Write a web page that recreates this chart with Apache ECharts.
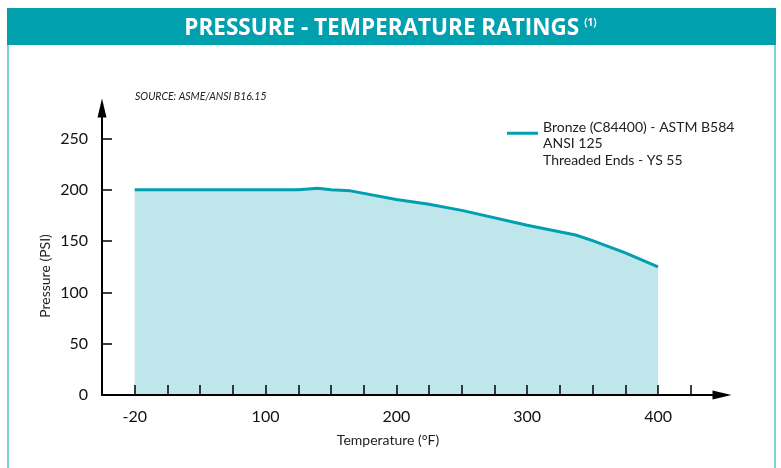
<!DOCTYPE html>
<html>
<head>
<meta charset="utf-8">
<script src="https://cdn.jsdelivr.net/npm/echarts@6/dist/echarts.min.js"></script>
<style>
html,body{margin:0;padding:0;background:#fff;}
#c{width:781px;height:468px;}
</style>
</head>
<body>
<div id="c"></div>
<script>
// ---- data ----
var temperaturesF = [-20, 50, 100, 125, 140, 150, 165, 200, 225, 250, 300, 337, 350, 375, 400];
var pressurePSI   = [200, 200, 200, 200, 201.5, 200, 199, 190.5, 186, 180, 165.5, 156, 150.5, 138.5, 125];
var xTickValues  = [0, 25, 50, 75, 100, 125, 150, 175, 200, 225, 250, 275, 300, 325, 350, 375, 400, 425];
var xLabelValues = [0, 100, 200, 300, 400];
var yTickValues  = [0, 50, 100, 150, 200, 250];
var seriesLines = ['Bronze (C84400) - ASTM B584', 'ANSI 125', 'Threaded Ends - YS 55'];
var seriesName = seriesLines.join(' / ');
var titleText = 'PRESSURE - TEMPERATURE RATINGS';
var sourceText = 'SOURCE: ASME/ANSI B16.15';

// The chart's temperature scale is broken: -20 °F sits at the 0 position.
function xPos(t){ return t < 0 ? 0 : t; }
function xLabel(v){ return v === 0 ? '-20' : String(v); }

var teal = '#00a0ae';
var font = 'Lato, "Open Sans", sans-serif';
var chart = echarts.init(document.getElementById('c'), null, {renderer:'canvas'});
chart.setOption({
  animation:false,
  backgroundColor:'#fff',
  title:{
    text:'{m|' + titleText + '} {s|(1)}',
    left:'center', top:12,
    textStyle:{
      rich:{
        m:{fontFamily:'"Open Sans", Lato, sans-serif', fontWeight:'bold', fontSize:22.5, color:'#fff'},
        s:{fontFamily:'"Open Sans", Lato, sans-serif', fontWeight:'bold', fontSize:10, color:'#fff', padding:[0,0,10,0]}
      }
    }
  },
  graphic:[
    {type:'rect', z:-1, shape:{x:7, y:8, width:769, height:37}, style:{fill:teal}},
    {type:'rect', z:-1, shape:{x:7, y:45, width:2, height:430}, style:{fill:'#7fd0d8'}},
    {type:'rect', z:-1, shape:{x:774, y:45, width:2, height:430}, style:{fill:'#7fd0d8'}},
    {type:'text', left:135, top:91, style:{text:sourceText, font:'italic 10.5px ' + font, fill:'#222'}},
    {type:'text', x:45, y:276, rotation:Math.PI/2, style:{text:'Pressure (PSI)', font:'14px ' + font, fill:'#222', align:'center', verticalAlign:'middle'}},
    {type:'text', x:388, y:440, style:{text:'Temperature (°F)', font:'14px ' + font, fill:'#222', align:'center', verticalAlign:'middle'}}
  ],
  legend:{
    left:502, top:103,
    icon:'rect', itemWidth:31, itemHeight:3,
    data:[seriesName],
    formatter:function(){
      return '{p| }\n' + seriesLines.map(function(s){ return '{t|' + s + '}'; }).join('\n');
    },
    textStyle:{
      rich:{
        p:{fontSize:1, lineHeight:21},
        t:{fontFamily:font, fontSize:14, color:'#222', lineHeight:16.5}
      }
    }
  },
  grid:{left:102, right:68, top:117, bottom:73, containLabel:false},
  xAxis:{
    type:'value', min:-25, max:442, z:5,
    axisLine:{show:true, onZero:false, lineStyle:{color:'#000', width:2}, symbol:['none','triangle'], symbolSize:[9,19], symbolOffset:[0,9]},
    axisTick:{show:true, inside:true, length:10, lineStyle:{color:'#000', width:1.5}, customValues:xTickValues},
    axisLabel:{show:true, margin:14, fontFamily:font, fontSize:16, color:'#111', customValues:xLabelValues, formatter:xLabel},
    splitLine:{show:false}
  },
  yAxis:{
    type:'value', min:0, max:271, z:5,
    axisLine:{show:true, onZero:false, lineStyle:{color:'#000', width:2}, symbol:['none','triangle'], symbolSize:[9,19], symbolOffset:[0,9]},
    axisTick:{show:true, inside:true, length:10, lineStyle:{color:'#000', width:1.5}, customValues:yTickValues},
    axisLabel:{show:true, margin:14, fontFamily:font, fontSize:16, color:'#111', customValues:yTickValues},
    splitLine:{show:false}
  },
  series:[{
    name:seriesName,
    type:'line',
    symbol:'none',
    data:temperaturesF.map(function(t,i){ return [xPos(t), pressurePSI[i]]; }),
    lineStyle:{color:teal, width:3},
    itemStyle:{color:teal},
    areaStyle:{color:'#bfe6ea', opacity:1},
    z:1
  }]
});
</script>
</body>
</html>
